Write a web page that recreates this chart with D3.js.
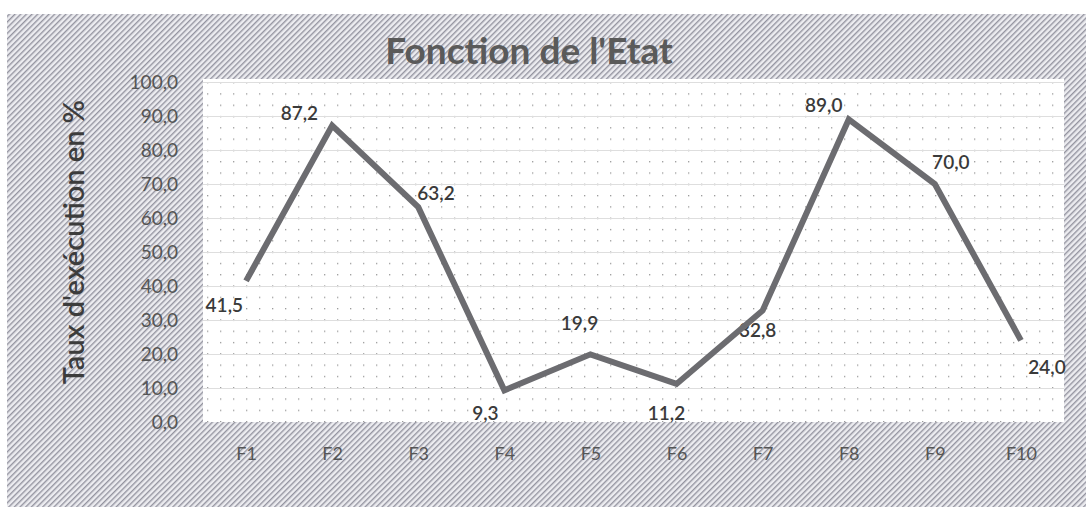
<!DOCTYPE html>
<html>
<head>
<meta charset="utf-8">
<script src="https://cdn.jsdelivr.net/npm/d3@7"></script>
<style>
  body { margin: 0; background: #fff; }
  svg { display: block; }
  text { font-family: Lato, "Open Sans", sans-serif; }
</style>
</head>
<body>
<script>
var categories = ["F1", "F2", "F3", "F4", "F5", "F6", "F7", "F8", "F9", "F10"];
var values = [41.5, 87.2, 63.2, 9.3, 19.9, 11.2, 32.8, 89.0, 70.0, 24.0];
var yTicks = [0, 10, 20, 30, 40, 50, 60, 70, 80, 90, 100];
// where each data label sits relative to its point [dx, dy, anchor]
var labelPos = [[-3, 24, "end"], [-14, -12, "end"], [-1, -14, "start"], [-19, 23, "middle"],
                [-11, -31, "middle"], [-10, 29, "middle"], [-5, 20, "middle"], [-25, -14, "middle"],
                [16, -22, "middle"], [26, 27, "middle"]];

var width = 1086, height = 507;
var plotLeft = 203, plotRight = 1064, plotTop = 79, plotBottom = 422;

var svg = d3.select("body").append("svg")
    .attr("width", width)
    .attr("height", height);

var defs = svg.append("defs");

var hatch = defs.append("pattern")
    .attr("id", "hatch")
    .attr("patternUnits", "userSpaceOnUse")
    .attr("width", 4).attr("height", 4)
    .attr("patternTransform", "rotate(45)");
hatch.append("rect").attr("width", 4).attr("height", 4).attr("fill", "#ececf0");
hatch.append("rect").attr("width", 1.4).attr("height", 4).attr("fill", "#9494a0");

var dots = defs.append("pattern")
    .attr("id", "dots")
    .attr("patternUnits", "userSpaceOnUse")
    .attr("x", plotLeft + 4).attr("y", plotTop + 3)
    .attr("width", 13).attr("height", 11.3);
dots.append("rect").attr("width", 13).attr("height", 11.3).attr("fill", "#fff");
dots.append("rect").attr("width", 1.3).attr("height", 1.3).attr("fill", "#9a9a9a");

// chart area
svg.append("rect")
    .attr("x", 7).attr("y", 14)
    .attr("width", width - 7).attr("height", height - 14)
    .attr("fill", "url(#hatch)");

// plot area
svg.append("rect")
    .attr("x", plotLeft).attr("y", plotTop)
    .attr("width", plotRight - plotLeft).attr("height", plotBottom - plotTop)
    .attr("fill", "url(#dots)");

var x = d3.scalePoint()
    .domain(categories)
    .range([plotLeft, plotRight])
    .padding(0.5);

var y = d3.scaleLinear()
    .domain([0, 100])
    .range([plotBottom, plotTop + 3]);

// gridlines
svg.append("g")
    .selectAll("line")
    .data(yTicks.slice(1))
    .enter().append("line")
    .attr("x1", plotLeft).attr("x2", plotRight)
    .attr("y1", function (d) { return y(d) + 0.5 })
    .attr("y2", function (d) { return y(d) + 0.5 })
    .attr("stroke", "#dedede")
    .attr("stroke-width", 1);

// y axis
var yAxis = svg.append("g")
    .attr("transform", "translate(178,0)")
    .call(d3.axisLeft(y).tickValues(yTicks).tickSize(0).tickPadding(0)
        .tickFormat(function (d) { return d3.format(".1f")(d).replace(".", ",") }));
yAxis.select(".domain").remove();
yAxis.selectAll("text")
    .attr("fill", "#555555")
    .style("font-size", "19px");

// x axis
var xAxis = svg.append("g")
    .attr("transform", "translate(0," + plotBottom + ")")
    .call(d3.axisBottom(x).tickSize(0));
xAxis.select(".domain").remove();
xAxis.selectAll("text")
    .attr("dy", "1.95em")
    .attr("fill", "#555555")
    .style("font-size", "18px");

// data labels (the line is drawn over them)
svg.append("g")
    .selectAll("text")
    .data(values)
    .enter().append("text")
    .attr("x", function (d, i) { return x(categories[i]) + labelPos[i][0] })
    .attr("y", function (d, i) { return y(d) + labelPos[i][1] })
    .attr("dy", "0.35em")
    .attr("text-anchor", function (d, i) { return labelPos[i][2] })
    .attr("fill", "#3a3a3a")
    .style("font-size", "19px")
    .style("font-weight", "600")
    .text(function (d) { return d3.format(".1f")(d).replace(".", ",") });

// line
var line = d3.line()
    .x(function (d, i) { return x(categories[i]) })
    .y(function (d) { return y(d) });

svg.append("path")
    .datum(values)
    .attr("d", line)
    .attr("fill", "none")
    .attr("stroke", "#6c6c70")
    .attr("stroke-width", 6)
    .attr("stroke-linejoin", "miter");

// title
svg.append("text")
    .attr("x", 529).attr("y", 51)
    .attr("dy", "0.35em")
    .attr("text-anchor", "middle")
    .attr("fill", "#5a5a5a")
    .style("font-size", "37px")
    .style("font-weight", "bold")
    .text("Fonction de l'Etat");

// y axis title
svg.append("text")
    .attr("transform", "translate(74,242) rotate(-90)")
    .attr("dy", "0.35em")
    .attr("text-anchor", "middle")
    .attr("fill", "#3c3c3c")
    .style("font-size", "29px")
    .style("font-weight", "600")
    .text("Taux d'exécution en %");
</script>
</body>
</html>
